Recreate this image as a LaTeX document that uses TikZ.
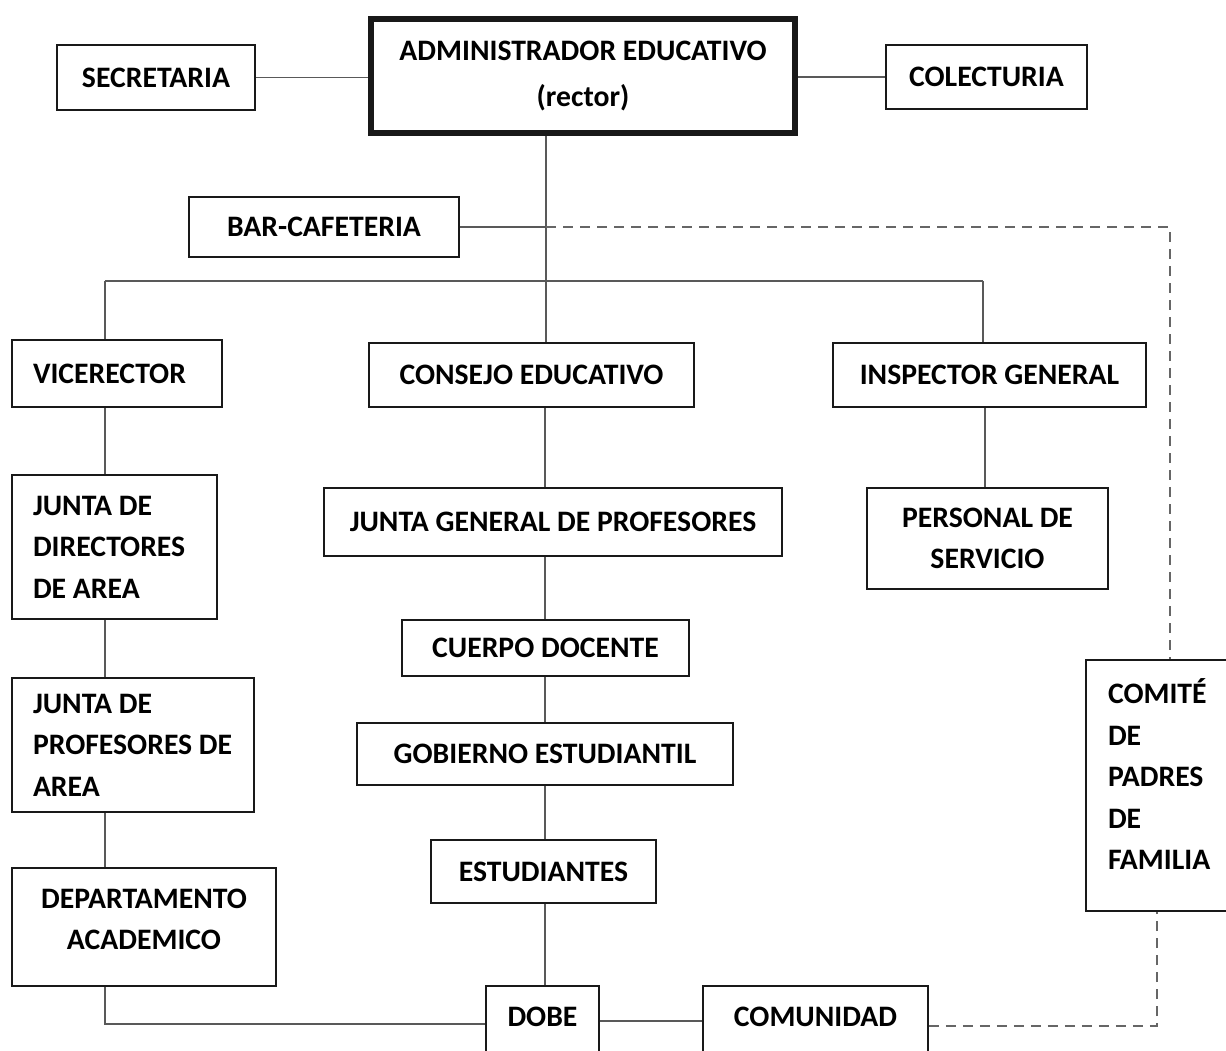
\documentclass[tikz,border=0pt]{standalone}
\usepackage{fontspec}
\setmainfont{Carlito}
\begin{document}
\begin{tikzpicture}[x=1pt,y=-1pt,
  box/.style={draw=black!90,line width=1.6pt,fill=white,inner sep=0pt,font=\bfseries\fontsize{29.7}{41.5}\selectfont,align=center},
  lbox/.style={box,align=left,inner xsep=21pt,execute at begin node={\spaceskip=0pt\xspaceskip=0pt\relax}},
  conn/.style={draw=black!65,line width=1.5pt},
  dconn/.style={draw=black!60,line width=1.5pt,dash pattern=on 10pt off 7pt}]
\useasboundingbox (0,0) rectangle (1226,1050);
\clip (0,0) rectangle (1226,1050);
\fill[white] (0,0) rectangle (1226,1050);
% coordinates
\coordinate (trunk) at (546,281);
\coordinate (busL) at (105,281);
\coordinate (busR) at (983,281);
\coordinate (lx) at (105,0);
\coordinate (cx) at (545,0);
\coordinate (ix) at (985,0);
\coordinate (dashTR) at (1170,223);
\coordinate (dashBR) at (1157,1026);
\coordinate (yb) at (0,1024);
\coordinate (yd) at (0,1021);
% nodes
\node[box,line width=6pt,minimum width=424pt,minimum height=114pt,font=\bfseries\fontsize{29.7}{46}\selectfont] (admin) at (583,76) {ADMINISTRADOR EDUCATIVO\\(rector)};
\node[box,minimum width=198pt,minimum height=65pt] (sec) at (156,77.5) {SECRETARIA};
\node[box,minimum width=201pt,minimum height=64pt] (col) at (986.5,77) {COLECTURIA};
\node[box,minimum width=270pt,minimum height=60pt] (bar) at (324,227) {BAR-CAFETERIA};
\node[lbox,text width=168pt,minimum width=210pt,minimum height=67pt] (vice) at (117,373.5) {VICERECTOR};
\node[box,minimum width=325pt,minimum height=64pt] (consejo) at (531.5,375) {CONSEJO EDUCATIVO};
\node[box,minimum width=313pt,minimum height=64pt] (insp) at (989.5,375) {INSPECTOR GENERAL};
\node[lbox,text width=163pt,minimum width=205pt,minimum height=144pt] (jdda) at (114.5,547) {\mbox{JUNTA DE}\\DIRECTORES\\\mbox{DE AREA}};
\node[box,minimum width=458pt,minimum height=68pt] (jgp) at (553,522) {JUNTA GENERAL DE PROFESORES};
\node[box,minimum width=241pt,minimum height=101pt] (pers) at (987.5,538.5) {PERSONAL DE\\SERVICIO};
\node[lbox,text width=200pt,minimum width=242pt,minimum height=134pt] (jpa) at (133,745) {\mbox{JUNTA DE}\\\mbox{PROFESORES DE}\\AREA};
\node[box,minimum width=287pt,minimum height=56pt] (cuerpo) at (545.5,648) {CUERPO DOCENTE};
\node[box,minimum width=376pt,minimum height=62pt] (gob) at (545,754) {GOBIERNO ESTUDIANTIL};
\node[box,minimum width=225pt,minimum height=63pt] (est) at (543.5,871.5) {ESTUDIANTES};
\node[box,minimum width=264pt,minimum height=118pt] (dept) at (144,927) {DEPARTAMENTO\\ACADEMICO\\[-25.5pt]\mbox{}};
\node[box,minimum width=113pt,minimum height=88pt] (dobe) at (542.5,1030) {DOBE\\[-15pt]\mbox{}};
\node[box,minimum width=225pt,minimum height=88pt] (com) at (815.5,1030) {COMUNIDAD\\[-15pt]\mbox{}};
\node[lbox,text width=140pt,inner xsep=22pt,minimum width=184pt,minimum height=251pt] (comite) at (1178,785.5) {COMITÉ\\DE\\PADRES\\DE\\FAMILIA\\[-19pt]\mbox{}};
% connectors
\draw[conn] (sec.east) -- (sec.east -| admin.west);
\draw[conn] (admin.east |- col.west) -- (col.west);
\draw[conn] (trunk |- admin.south) -- (trunk);
\draw[conn] (busL) -- (busR);
\draw[conn] (trunk) -- (trunk |- consejo.north);
\draw[conn] (busL) -- (busL |- vice.north);
\draw[conn] (busR) -- (busR |- insp.north);
\draw[conn] (bar.east) -- (bar.east -| trunk);
\draw[dconn] (bar.east -| trunk) -- (bar.east -| dashTR) -- (dashTR |- comite.north);
\draw[conn] (lx |- vice.south) -- (lx |- jdda.north);
\draw[conn] (lx |- jdda.south) -- (lx |- jpa.north);
\draw[conn] (lx |- jpa.south) -- (lx |- dept.north);
\draw[conn] (lx |- dept.south) -- (lx |- yb) -- (dobe.west |- yb);
\draw[conn] (cx |- consejo.south) -- (cx |- jgp.north);
\draw[conn] (cx |- jgp.south) -- (cx |- cuerpo.north);
\draw[conn] (cx |- cuerpo.south) -- (cx |- gob.north);
\draw[conn] (cx |- gob.south) -- (cx |- est.north);
\draw[conn] (cx |- est.south) -- (cx |- dobe.north);
\draw[conn] (ix |- insp.south) -- (ix |- pers.north);
\draw[conn] (dobe.east |- yd) -- (com.west |- yd);
\draw[dconn] (com.east |- dashBR) -- (dashBR) -- (dashBR |- comite.south);
\end{tikzpicture}
\end{document}
